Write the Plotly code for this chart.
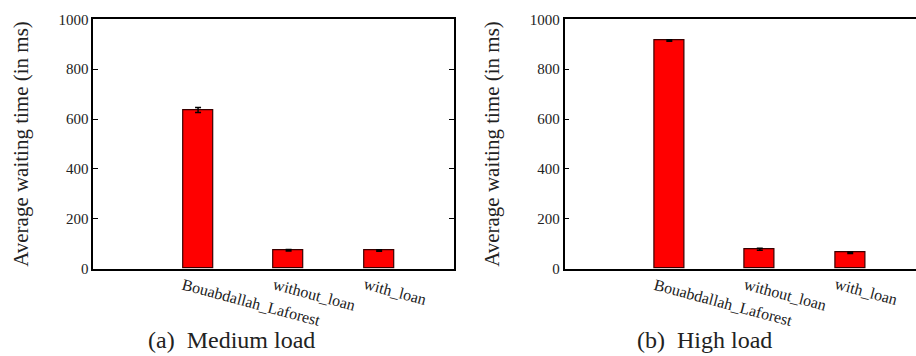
import plotly.graph_objects as go

categories = ["Bouabdallah_Laforest", "without_loan", "with_loan"]
medium_values = [636, 74, 73]
medium_errors = [10, 3, 3]
high_values = [915, 78, 64]
high_errors = [3, 4, 3]
y_ticks = [0, 200, 400, 600, 800, 1000]
captions = ["(a)  Medium load", "(b)  High load"]
y_title = "Average waiting time (in ms)"

W, H = 916, 356
FONT = "Liberation Serif, Times New Roman, serif"
TXT = "#222222"

fig = go.Figure()
x_pos = list(range(len(categories)))


def add_bars(vals, errs, xa, ya):
    fig.add_trace(go.Bar(
        x=x_pos, y=vals, width=0.33,
        marker=dict(color="#ff0000", line=dict(color="#3a0000", width=1.2)),
        error_y=dict(type="data", array=errs, color="black", thickness=1.5, width=3),
        xaxis=xa, yaxis=ya, showlegend=False,
    ))


add_bars(medium_values, medium_errors, "x", "y")
add_bars(high_values, high_errors, "x2", "y2")

ydom = [1 - 268.7 / H, 1 - 19.3 / H]
common_x = dict(
    tickmode="array", tickvals=x_pos, showticklabels=False,
    ticks="", showgrid=False, zeroline=False, showline=True, linecolor="black",
    linewidth=1.5, automargin=False, fixedrange=True,
)
common_y = dict(
    range=[0, 1000], tickvals=y_ticks, ticks="inside", ticklen=5, tickcolor="black",
    showgrid=False, zeroline=False, showline=True, linecolor="black", linewidth=1.5,
    tickfont=dict(family=FONT, size=15, color=TXT), automargin=False,
    title=dict(text=y_title, font=dict(family=FONT, size=21, color=TXT), standoff=24),
    domain=ydom, fixedrange=True,
)

fig.update_layout(
    width=W, height=H, margin=dict(l=0, r=0, t=0, b=0, autoexpand=False),
    paper_bgcolor="white", plot_bgcolor="white",
    xaxis=dict(domain=[93.3 / W, 453.5 / W], range=[-1.157, 2.821], mirror=True,
               anchor="y", **common_x),
    yaxis=dict(anchor="x", mirror="ticks", **common_y),
    xaxis2=dict(domain=[564.5 / W, 1.0], range=[-1.159, 2.727], mirror=True,
                anchor="y2", **common_x),
    yaxis2=dict(anchor="x2", mirror=False, **common_y),
    bargap=0,
)

# rotated category labels, placed on the data x-scale of each panel
for xref in ("x", "x2"):
    for i, cat in enumerate(categories):
        fig.add_annotation(
            text=cat, x=x_pos[i] - 0.22, y=1 - 273 / H, xref=xref, yref="paper",
            xanchor="left", yanchor="top", textangle=15, showarrow=False,
            font=dict(family=FONT, size=16, color=TXT),
        )

for cap, cx in zip(captions, (232, 704)):
    fig.add_annotation(text=cap, x=cx / W, y=1 - 340 / H, xref="paper", yref="paper",
                       xanchor="center", yanchor="middle", showarrow=False,
                       font=dict(family=FONT, size=24, color=TXT))

fig.write_html(
    "out.html",
    config={"displayModeBar": False},
    post_script="document.body.style.margin='0';document.body.style.overflow='hidden';",
)
